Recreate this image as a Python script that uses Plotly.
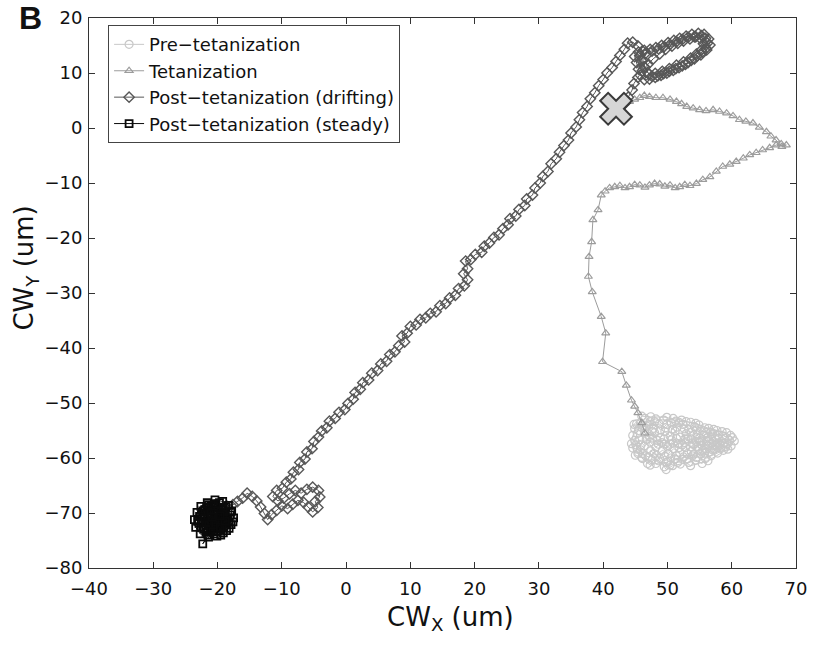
import plotly.graph_objects as go

# ---------------- data ----------------
pre_pts = [
    (46.5,-55.0),(47.2,-56.1),(48.0,-55.4),(48.9,-56.3),(49.6,-55.2),(50.4,-56.0),(51.2,-55.1),(52.0,-56.2),
    (52.9,-55.6),(53.7,-56.5),(54.6,-55.8),(55.4,-56.9),(56.3,-56.2),(57.1,-57.0),(58.0,-56.4),(58.8,-57.3),
    (59.6,-56.8),(59.1,-58.0),(58.2,-57.7),(57.3,-58.4),(56.4,-57.8),(55.5,-58.6),(54.6,-57.9),(53.7,-58.8),
    (52.8,-58.1),(51.9,-59.0),(51.0,-58.3),(50.1,-59.2),(49.2,-58.6),(48.3,-59.5),(47.4,-58.7),(46.6,-59.6),
    (45.8,-58.5),(45.1,-57.6),(45.7,-56.7),(46.4,-57.8),(47.3,-57.1),(48.2,-58.0),(49.1,-57.2),(50.0,-58.0),
    (50.9,-57.3),(51.8,-58.1),(52.7,-57.2),(53.6,-58.0),(54.5,-57.0),(55.4,-57.7),(56.2,-56.9),(55.0,-56.4),
    (53.9,-57.3),(52.8,-56.6),(51.7,-57.4),(50.6,-56.7),(49.5,-57.5),(48.4,-56.8),(47.6,-55.2),(46.8,-54.2),
    (47.8,-54.6),(48.7,-53.8),(49.7,-54.5),(50.6,-53.6),(51.5,-54.4),(52.4,-53.9),(53.3,-54.8),(54.2,-54.3),
    (55.1,-55.1),(56.0,-55.4),(57.0,-55.6),(57.9,-55.9),(58.6,-56.0),(57.5,-57.6),(56.5,-58.9),(55.2,-59.3),
    (53.9,-59.6),(52.5,-59.8),(51.2,-60.2),(50.1,-60.6),(49.5,-61.6),(48.6,-60.5),(47.6,-60.3),(46.9,-61.0),
    (46.1,-60.1),(45.4,-59.2),(44.6,-58.2),(44.9,-56.8),(45.3,-55.6),(44.9,-54.7),(45.8,-53.6),(46.5,-52.8),
    (47.3,-53.4),(48.2,-52.9),(49.4,-53.1),(50.9,-52.8),(52.2,-53.1),(53.6,-53.5),(54.9,-54.0),(55.8,-54.5),
    (57.2,-54.8),(58.5,-55.2),(59.8,-55.9),(60.4,-56.9),(59.9,-57.8),(58.7,-58.6),(57.8,-59.1),(56.8,-59.6),
    (55.9,-60.1),(55.4,-61.0),(54.4,-60.4),(53.3,-60.8),(52.0,-61.1),(50.8,-61.4),(49.8,-62.1),
    (45.2,-53.8),(46.2,-54.1),(47.1,-54.0),(48.0,-53.4),(48.9,-54.9),(49.9,-53.9),(50.8,-54.8),(51.8,-53.5),
    (52.6,-54.7),(53.7,-55.3),(54.5,-54.9),(55.6,-55.9),(56.7,-55.3),(57.6,-56.7),(58.4,-57.0),(59.3,-57.4),
    (58.9,-56.4),(57.8,-58.1),(56.9,-57.3),(55.9,-58.4),(54.9,-58.4),(54.1,-59.3),(53.1,-59.2),(52.3,-60.2),
    (51.4,-59.6),(50.5,-60.0),(49.6,-59.7),(48.8,-60.1),(47.9,-59.2),(47.0,-59.8),(46.1,-59.2),(45.3,-58.4),
    (45.9,-57.6),(46.7,-56.6),(47.7,-56.4),(48.6,-57.5),(49.5,-56.5),(50.4,-57.5),(51.4,-56.4),(52.3,-57.6),
    (53.2,-56.5),(54.1,-57.6),(55.1,-56.9),(56.0,-57.6),(56.9,-56.6),(57.8,-57.4),(58.3,-58.2),(57.0,-58.5),
    (55.8,-59.1),(54.5,-59.9),(53.0,-60.2),(51.6,-60.8),(50.4,-61.3),(49.9,-60.8),(48.2,-61.0),(47.3,-61.3),
    (46.0,-59.9),(45.0,-59.5),(44.4,-57.4),(44.6,-55.9),(45.5,-55.0),(44.8,-53.9),(46.0,-52.4),(47.4,-52.5),
    (49.9,-52.6),(51.3,-53.3),(52.9,-53.4),(54.4,-53.7),(56.4,-54.6),(57.7,-55.0),(59.2,-55.4),(60.1,-56.3),
    (59.4,-58.4),(56.3,-60.5),(53.6,-61.4),(46.5,-55.5),
]

tet_pts = [
    (46.5,-55.5),(46.0,-53.6),(45.4,-51.8),(44.9,-50.6),(44.4,-49.5),(43.6,-46.8),(42.9,-44.3),(39.9,-42.5),
    (40.4,-37.3),(39.7,-34.3),(38.3,-29.8),(37.7,-27.0),(37.8,-23.4),(38.2,-20.7),(38.4,-16.7),(39.2,-14.9),
    (39.7,-12.2),(40.3,-11.5),(41.0,-10.9),(41.8,-10.7),(42.6,-10.5),(43.4,-10.9),(44.1,-10.7),(44.9,-10.3),
    (45.7,-10.4),(46.5,-10.8),(47.2,-10.4),(48.0,-10.1),(48.8,-10.2),(49.6,-10.6),(50.4,-10.4),(51.2,-10.9),
    (51.9,-10.7),(52.7,-10.3),(53.5,-10.5),(54.5,-10.1),(55.5,-9.4),(56.6,-8.9),(57.6,-7.9),(58.6,-7.0),
    (59.7,-6.6),(60.7,-6.1),(61.8,-5.5),(62.8,-4.9),(63.8,-4.5),(64.8,-4.0),(65.9,-3.6),(66.9,-3.1),
    (67.7,-2.9),(68.5,-3.1),(67.8,-3.4),(66.9,-2.2),(66.1,-1.5),(65.4,-0.7),(64.3,0.1),(63.3,0.9),
    (62.2,1.2),(61.2,1.5),(60.2,2.2),(59.2,2.7),(58.1,3.0),(57.1,3.3),(56.0,3.1),(55.0,3.3),
    (54.0,3.6),(53.0,3.9),(52.2,4.4),(51.4,4.8),(50.4,5.2),(49.3,5.5),(48.2,5.5),(47.2,5.7),
    (46.4,5.9),(45.7,5.5),(44.9,5.2),(44.1,4.8),(43.4,4.5),
]

drift_pts = [
    (43.4,4.5),(43.9,5.6),(44.5,6.9),(44.8,8.1),(45.4,9.2),(46.1,10.4),(46.9,11.5),(47.8,12.6),
    (48.8,13.5),(49.7,14.3),(50.7,14.9),(51.6,15.4),(52.5,15.8),(53.5,16.2),(54.4,16.6),(55.3,16.8),
    (55.9,16.3),(56.2,15.4),(56.0,14.5),(55.4,13.8),(54.6,13.1),(53.7,12.3),(52.8,11.6),(51.8,11.0),
    (50.9,10.5),(49.9,10.0),(49.0,9.6),(48.1,9.2),(47.2,8.9),(46.4,8.8),(45.8,9.6),(45.5,10.7),
    (45.2,11.9),(44.9,13.0),(45.5,13.8),(46.4,14.1),(47.3,14.3),(48.2,14.6),(49.1,15.0),(50.1,15.5),
    (51.0,15.9),(51.9,16.3),(52.9,16.7),(53.8,17.0),(54.8,17.2),(55.7,17.0),(56.4,16.2),(56.6,15.1),
    (56.1,14.2),(55.2,13.3),(54.2,12.6),(53.2,11.9),(52.3,11.3),(51.3,10.8),(50.3,10.3),(49.4,9.9),
    (48.5,9.5),(47.6,9.4),(46.9,10.1),(46.4,11.1),(46.0,12.2),(45.7,13.2),(46.6,13.6),(47.6,14.0),
    (48.6,14.4),(49.5,14.8),(50.4,15.2),(51.4,15.7),(52.3,16.1),(53.2,16.5),(54.2,16.6),(55.1,16.3),
    (55.6,15.3),(55.3,14.2),(54.5,13.4),(53.6,12.7),(52.5,12.0),(51.4,11.4),(50.3,10.8),(49.2,10.3),
    (48.1,9.9),(47.1,9.8),(46.5,11.0),(46.2,12.3),(46.1,14.0),(45.4,14.9),(44.6,15.6),(43.8,15.4),(43.3,14.3),
    (42.6,13.2),(42.0,12.1),(41.4,11.0),(40.6,10.0),(40.0,8.8),(39.3,7.7),(38.7,6.4),(38.0,5.3),
    (37.5,3.9),(36.8,2.8),(36.3,1.5),(35.8,0.2),(35.0,-0.9),(34.6,-2.2),(33.9,-3.2),(33.2,-4.4),
    (32.7,-5.6),(31.9,-6.5),(31.4,-7.9),(30.6,-8.8),(30.2,-10.0),(29.4,-10.9),(29.0,-12.2),(28.1,-12.9),
    (27.8,-14.1),(26.9,-14.8),(26.4,-16.0),(25.5,-16.5),(25.2,-17.6),(24.4,-18.3),(23.8,-19.4),(23.0,-19.9),
    (22.3,-20.9),(21.5,-21.5),(21.1,-22.6),(20.1,-23.0),(19.4,-23.9),(18.6,-24.2),(18.9,-25.6),(18.3,-26.5),
    (18.9,-27.6),(18.4,-28.7),(17.5,-29.2),(17.0,-30.4),(16.1,-30.9),(15.5,-31.9),(14.6,-32.3),(14.0,-33.4),
    (13.1,-33.7),(12.4,-34.5),(11.5,-34.8),(10.9,-35.8),(10.0,-36.1),(9.5,-37.3),(8.7,-37.8),(9.1,-38.9),
    (8.2,-39.6),(7.6,-40.7),(6.8,-41.2),(6.3,-42.4),(5.4,-42.9),(4.9,-44.1),(4.0,-44.6),(3.5,-45.8),
    (2.6,-46.3),(2.2,-47.5),(1.4,-48.1),(1.1,-49.3),(0.3,-50.1),(-0.2,-51.2),(-1.1,-51.7),(-1.7,-52.8),
    (-2.6,-53.3),(-3.0,-54.5),(-3.8,-55.1),(-4.3,-56.2),(-5.0,-57.0),(-5.3,-58.3),(-6.1,-58.9),(-6.4,-60.2),
    (-7.2,-60.8),(-7.4,-62.1),(-8.2,-62.6),(-8.6,-63.8),(-9.3,-64.4),(-9.9,-65.5),(-10.8,-65.9),(-11.4,-67.0),
    (-10.6,-67.8),(-9.7,-67.3),(-8.8,-66.5),(-7.9,-65.9),(-7.0,-66.4),(-6.1,-65.7),(-5.2,-65.3),(-4.3,-65.9),
    (-4.1,-67.1),(-4.8,-67.9),(-4.4,-69.0),(-5.2,-69.8),(-5.9,-68.9),(-6.6,-68.1),(-7.5,-67.7),(-8.3,-68.4),
    (-9.1,-69.2),(-10.0,-68.7),(-10.8,-69.5),(-11.6,-70.3),(-12.2,-71.2),(-12.7,-70.1),(-13.3,-68.9),(-13.9,-67.8),
    (-14.6,-67.0),(-15.4,-66.4),(-16.1,-67.3),(-16.9,-67.9),(-17.6,-68.5),(-18.5,-68.8),(-19.4,-69.4),
]

steady_pts = [
    (-19.4,-69.4),(-20.4,-70.1),(-21.3,-69.5),(-22.1,-70.4),(-21.6,-71.5),(-20.7,-72.1),(-19.8,-71.4),(-18.9,-70.6),
    (-18.2,-71.7),(-19.0,-72.6),(-19.9,-73.3),(-20.8,-72.9),(-21.8,-73.5),(-22.6,-72.6),(-23.1,-71.5),(-22.5,-70.3),
    (-21.7,-69.0),(-20.6,-68.6),(-19.7,-68.1),(-18.7,-68.9),(-17.9,-69.8),(-17.5,-70.9),(-17.9,-72.1),(-18.6,-73.2),
    (-19.5,-74.0),(-20.5,-73.8),(-21.4,-74.4),(-22.3,-75.6),(-21.5,-74.0),(-22.7,-73.8),(-23.4,-72.6),(-23.6,-71.2),
    (-23.2,-69.9),(-22.6,-68.8),(-21.6,-68.1),(-20.4,-67.6),(-19.2,-67.9),(-18.3,-68.6),(-17.8,-69.6),(-18.8,-70.2),
    (-19.7,-70.8),(-20.6,-71.2),(-21.5,-70.8),(-22.3,-71.6),(-21.4,-72.4),(-20.3,-72.8),(-19.3,-72.1),(-18.6,-71.2),
    (-19.5,-70.0),(-20.5,-69.5),(-21.2,-70.6),(-20.9,-71.8),(-20.0,-72.3),(-19.2,-71.0),(-20.2,-70.4),
    (-20.0,-70.9),(-21.0,-71.3),(-20.5,-72.5),(-19.5,-72.8),(-18.8,-72.0),(-18.4,-70.9),(-19.0,-69.8),(-20.0,-69.0),
    (-21.0,-68.8),(-22.0,-69.4),(-22.8,-70.6),(-22.9,-71.9),(-22.1,-72.9),(-21.1,-73.2),(-20.1,-74.2),(-19.1,-73.6),
    (-18.2,-72.8),(-17.6,-71.6),(-18.0,-70.4),(-19.1,-69.0),(-20.3,-68.3),(-21.4,-68.5),(-22.3,-69.6),(-22.0,-71.0),
    (-21.0,-70.0),(-19.9,-70.3),(-19.4,-71.6),(-20.4,-71.7),(-21.3,-72.1),(-21.8,-73.0),(-20.7,-73.4),(-19.6,-72.6),
    (-18.9,-71.5),(-19.6,-70.5),(-20.8,-70.8),
]

x_mark = [42.0]
y_mark = [3.5]

x_ticks = [-40, -30, -20, -10, 0, 10, 20, 30, 40, 50, 60, 70]
y_ticks = [-80, -70, -60, -50, -40, -30, -20, -10, 0, 10, 20]

series_names = ["Pre\u2212tetanization", "Tetanization",
                "Post\u2212tetanization (drifting)", "Post\u2212tetanization (steady)"]
x_label = "CW<sub>X</sub> (um)"
y_label = "CW<sub>Y</sub> (um)"

# ---------------- figure ----------------
def xy(pts):
    return [p[0] for p in pts], [p[1] for p in pts]

FONT = "DejaVu Sans, Liberation Sans, Arial, sans-serif"
fig = go.Figure()

styles = [
    (pre_pts, "#c8c8c8", "circle-open", 8, 1.2),
    (tet_pts, "#9c9c9c", "triangle-up-open", 7, 1.2),
    (drift_pts, "#585858", "diamond-open", 8, 1.4),
    (steady_pts, "#0a0a0a", "square-open", 7, 1.8),
]
for (pts, col, sym, sz, lw), name in zip(styles, series_names):
    xs, ys = xy(pts)
    fig.add_trace(go.Scatter(
        x=xs, y=ys, mode="lines+markers", name=name,
        line=dict(color=col, width=1),
        marker=dict(symbol=sym, size=sz, color=col, line=dict(width=lw, color=col)),
    ))

fig.add_trace(go.Scatter(
    x=x_mark, y=y_mark, mode="markers", showlegend=False,
    marker=dict(symbol="x", size=28, color="#d6d6d6", line=dict(width=2, color="#3a3a3a")),
))

axis_common = dict(
    showgrid=False, zeroline=False, showline=True, linecolor="#333", linewidth=1,
    mirror="ticks", ticks="inside", ticklen=6, tickcolor="#333", automargin=False,
    tickfont=dict(family=FONT, size=18, color="#111"),
)
fig.update_xaxes(range=[-40, 70], tickvals=x_ticks, ticklabelstandoff=4, **axis_common)
fig.update_yaxes(range=[-80, 20], tickvals=y_ticks, ticklabelstandoff=2, **axis_common)

# axis titles placed where the reference shows them
fig.add_annotation(text=x_label, xref="paper", yref="paper", x=0.511, y=-0.058,
                   xanchor="center", yanchor="top", showarrow=False,
                   font=dict(family=FONT, size=26, color="#111"))
fig.add_annotation(text=y_label, xref="paper", yref="paper", x=-0.09, y=0.545,
                   xanchor="center", yanchor="middle", showarrow=False, textangle=-90,
                   font=dict(family=FONT, size=26, color="#111"))

fig.add_annotation(text="<b>B</b>", xref="paper", yref="paper", x=-0.083, y=1.0,
                   xanchor="center", yanchor="middle", showarrow=False,
                   font=dict(family="Liberation Sans, Arial, sans-serif", size=32, color="#111"))

fig.update_layout(
    width=813, height=646,
    margin=dict(l=89, r=17, t=18, b=78, autoexpand=False),
    paper_bgcolor="white", plot_bgcolor="white",
    font=dict(family=FONT, color="#111"),
    legend=dict(x=0.027, y=0.987, xanchor="left", yanchor="top",
                bgcolor="white", bordercolor="#444", borderwidth=1,
                font=dict(family=FONT, size=18, color="#111"),
                tracegroupgap=0, itemwidth=30),
    showlegend=True,
)

fig.write_html("out.html", config={"displayModeBar": False},
               post_script="document.body.style.margin='0';")
